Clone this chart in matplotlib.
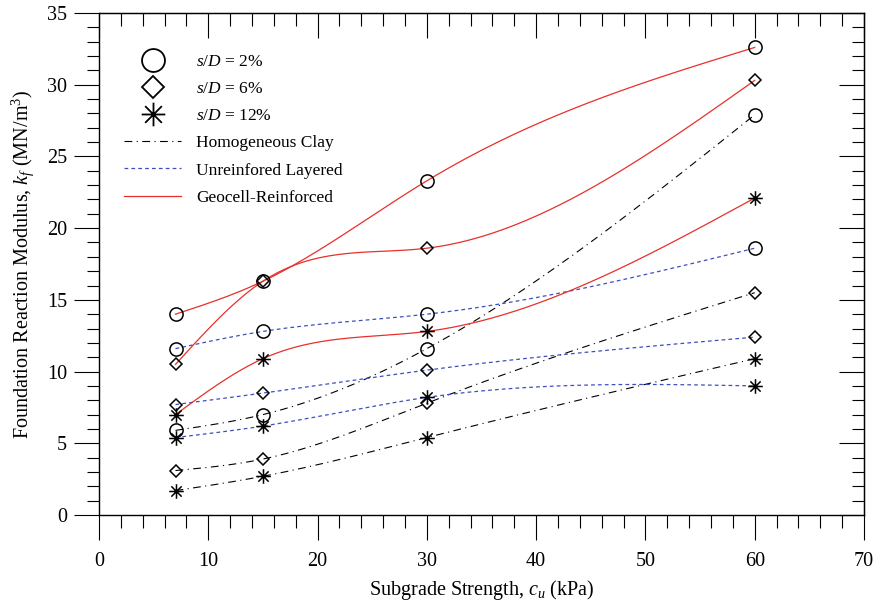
import matplotlib
matplotlib.use("Agg")
import matplotlib.pyplot as plt
import numpy as np
from matplotlib.path import Path
from matplotlib.lines import Line2D
from matplotlib.ticker import MultipleLocator

plt.rcParams["font.family"] = "Liberation Serif"
plt.rcParams["mathtext.fontset"] = "custom"
plt.rcParams["mathtext.rm"] = "Liberation Serif"
plt.rcParams["mathtext.it"] = "Liberation Serif:italic"

# subgrade strength c_u (kPa)
cu = [7, 15, 30, 60]

# foundation reaction modulus k_f (MN/m3)
homog_2 = [5.9, 7.0, 11.6, 27.9]
homog_6 = [3.1, 3.9, 7.8, 15.5]
homog_12 = [1.7, 2.7, 5.4, 10.9]

unreinf_2 = [11.6, 12.8, 14.0, 18.6]
unreinf_6 = [7.7, 8.5, 10.1, 12.4]
unreinf_12 = [5.4, 6.2, 8.2, 9.0]

geocell_2 = [14.0, 16.3, 23.3, 32.6]
geocell_6 = [10.5, 16.3, 18.6, 30.3]
geocell_12 = [7.0, 10.9, 12.8, 22.1]

sd_labels = [r"$s/D$ = 2%", r"$s/D$ = 6%", r"$s/D$ = 12%"]
case_labels = ["Homogeneous Clay", "Unreinfored Layered", "Geocell-Reinforced"]


def natural_spline(x, y, n=200):
    # natural cubic spline through the measured points (smooth connector)
    x = np.asarray(x, float)
    y = np.asarray(y, float)
    k = len(x)
    h = np.diff(x)
    A = np.zeros((k, k))
    b = np.zeros(k)
    A[0, 0] = A[-1, -1] = 1
    for i in range(1, k - 1):
        A[i, i - 1] = h[i - 1]
        A[i, i] = 2 * (h[i - 1] + h[i])
        A[i, i + 1] = h[i]
        b[i] = 6 * ((y[i + 1] - y[i]) / h[i] - (y[i] - y[i - 1]) / h[i - 1])
    M = np.linalg.solve(A, b)
    xs = np.linspace(x[0], x[-1], n)
    idx = np.clip(np.searchsorted(x, xs) - 1, 0, k - 2)
    x0, x1 = x[idx], x[idx + 1]
    hh = x1 - x0
    t0 = x1 - xs
    t1 = xs - x0
    ys = (M[idx] * t0**3 + M[idx + 1] * t1**3) / (6 * hh) \
        + (y[idx] / hh - M[idx] * hh / 6) * t0 \
        + (y[idx + 1] / hh - M[idx + 1] * hh / 6) * t1
    return xs, ys


# eight-armed asterisk marker
star = Path(
    [(0, -1), (0, 1), (-1, 0), (1, 0),
     (-0.707, -0.707), (0.707, 0.707), (-0.707, 0.707), (0.707, -0.707)],
    [Path.MOVETO, Path.LINETO] * 4,
)

markers = ["o", "D", star]
msizes = [9.5, 6.6, 10.5]

fig = plt.figure(figsize=(8.8, 6.06), dpi=100)
ax = fig.add_axes([99 / 880, 91 / 606, 765 / 880, 502 / 606])

groups = [
    ([homog_2, homog_6, homog_12], dict(color="black", lw=0.8, dashes=(7, 4, 1, 4))),
    ([unreinf_2, unreinf_6, unreinf_12], dict(color="#3d4fc0", lw=0.9, dashes=(3, 2.5))),
    ([geocell_2, geocell_6, geocell_12], dict(color="#e8302a", lw=0.9, linestyle="-")),
]

for series, style in groups:
    for vals in series:
        xs, ys = natural_spline(cu, vals)
        ax.plot(xs, ys, zorder=2, **style)

for series, style in groups:
    for vals, m, ms in zip(series, markers, msizes):
        ax.plot(cu, vals, linestyle="none", marker=m, markersize=ms,
                markerfacecolor="none", markeredgecolor="black",
                markeredgewidth=1.1, zorder=3)

ax.set_xlim(0, 70)
ax.set_ylim(0, 35)
ax.xaxis.set_major_locator(MultipleLocator(10))
ax.xaxis.set_minor_locator(MultipleLocator(2))
ax.yaxis.set_major_locator(MultipleLocator(5))
ax.yaxis.set_minor_locator(MultipleLocator(1))
ax.tick_params(which="major", direction="out", length=18, width=0.8,
               labelsize=14.5, pad=5)
ax.tick_params(axis="x", which="major", pad=9)
ax.tick_params(which="minor", direction="out", length=9, width=0.8)
for sp in ax.spines.values():
    sp.set_linewidth(1.0)

# mirrored ticks pointing inward on top and right
top = ax.secondary_xaxis("top")
top.xaxis.set_major_locator(MultipleLocator(10))
top.xaxis.set_minor_locator(MultipleLocator(2))
top.tick_params(which="major", direction="in", length=18, width=0.8, labeltop=False)
top.tick_params(which="minor", direction="in", length=9, width=0.8)
right = ax.secondary_yaxis("right")
right.yaxis.set_major_locator(MultipleLocator(5))
right.yaxis.set_minor_locator(MultipleLocator(1))
right.tick_params(which="major", direction="in", length=18, width=0.8, labelright=False)
right.tick_params(which="minor", direction="in", length=9, width=0.8)

ax.set_xlabel(r"Subgrade Strength, $c_u$ (kPa)", fontsize=14.5, labelpad=5)
ax.set_ylabel(r"Foundation Reaction Modulus, $k_f$ (MN/m$^3$)", fontsize=14.5, labelpad=8)

handles = [
    Line2D([], [], linestyle="none", marker=m, markersize=s, markerfacecolor="none",
           markeredgecolor="black", markeredgewidth=1.3)
    for m, s in zip(markers, [16.5, 11.7, 17])
]
handles += [
    Line2D([], [], color="black", lw=0.8, dashes=(7, 4, 1, 4)),
    Line2D([], [], color="#3d4fc0", lw=0.9, dashes=(3, 2.5)),
    Line2D([], [], color="#e8302a", lw=0.9),
]
ax.legend(handles, sd_labels + case_labels, loc="upper left", frameon=False,
          bbox_to_anchor=(124 / 880, 1 - 54 / 606), bbox_transform=fig.transFigure,
          fontsize=12.5, handlelength=3.3, handletextpad=0.85, labelspacing=0.63,
          borderpad=0, borderaxespad=0)

fig.savefig("out.png", dpi=100)
